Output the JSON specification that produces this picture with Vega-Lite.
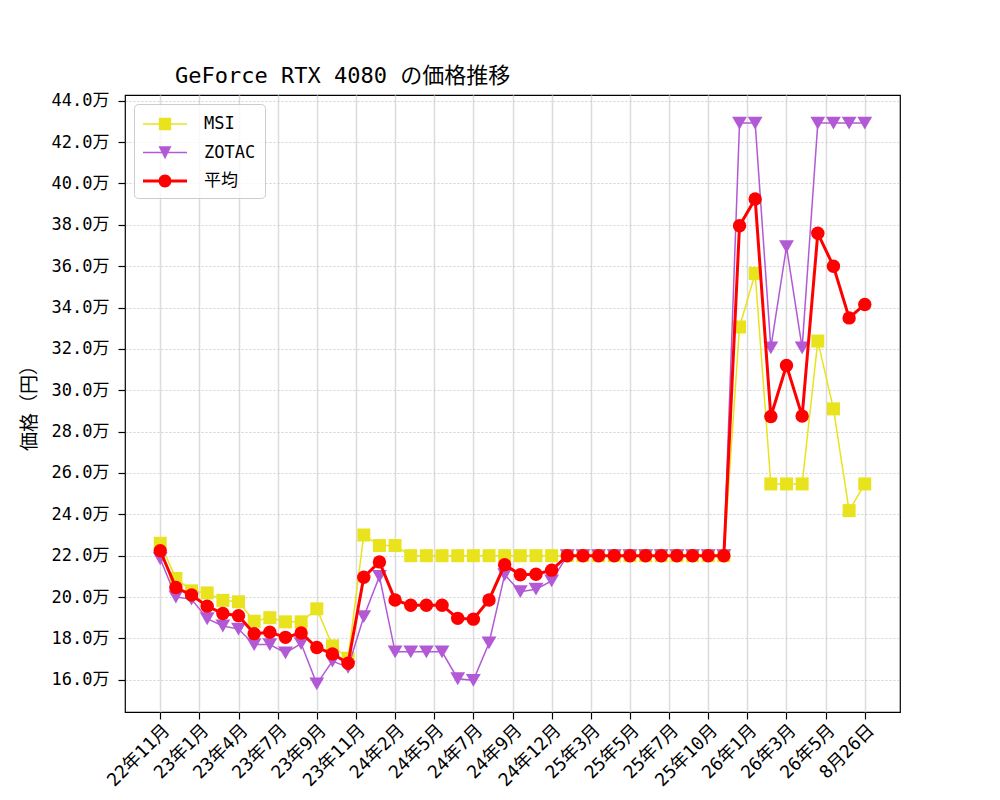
{
  "$schema": "https://vega.github.io/schema/vega-lite/v6.json",
  "width": 775,
  "height": 617,
  "autosize": "none",
  "padding": {"left": 125, "top": 95, "right": 100, "bottom": 88},
  "background": "white",
  "title": {"text": "GeForce RTX 4080 の価格推移", "anchor": "start", "frame": "group", "dx": 50, "offset": -13, "fontSize": 22, "fontWeight": "normal", "font": "DejaVu Sans Mono, Noto Sans CJK JP", "baseline": "alphabetic", "color": "black"},
  "data": {"values": [
    {"i": 0, "MSI": 226000, "ZOTAC": 218500, "平均": 222400},
    {"i": 1, "MSI": 209000, "ZOTAC": 200000, "平均": 204600},
    {"i": 2, "MSI": 203000, "ZOTAC": 199000, "平均": 201000},
    {"i": 3, "MSI": 202000, "ZOTAC": 189500, "平均": 195600},
    {"i": 4, "MSI": 198400, "ZOTAC": 186000, "平均": 192000},
    {"i": 5, "MSI": 197700, "ZOTAC": 184500, "平均": 191000},
    {"i": 6, "MSI": 188300, "ZOTAC": 177000, "平均": 182300},
    {"i": 7, "MSI": 190000, "ZOTAC": 177000, "平均": 183000},
    {"i": 8, "MSI": 188000, "ZOTAC": 173000, "平均": 180500},
    {"i": 9, "MSI": 188000, "ZOTAC": 177500, "平均": 182600},
    {"i": 10, "MSI": 194300, "ZOTAC": 158000, "平均": 175600},
    {"i": 11, "MSI": 176400, "ZOTAC": 169000, "平均": 172500},
    {"i": 12, "MSI": 170400, "ZOTAC": 166000, "平均": 168000},
    {"i": 13, "MSI": 230000, "ZOTAC": 190500, "平均": 209600},
    {"i": 14, "MSI": 224900, "ZOTAC": 210000, "平均": 217000},
    {"i": 15, "MSI": 224900, "ZOTAC": 173500, "平均": 198600},
    {"i": 16, "MSI": 220000, "ZOTAC": 173500, "平均": 196000},
    {"i": 17, "MSI": 220000, "ZOTAC": 173500, "平均": 196000},
    {"i": 18, "MSI": 220000, "ZOTAC": 173500, "平均": 196000},
    {"i": 19, "MSI": 220000, "ZOTAC": 160500, "平均": 189700},
    {"i": 20, "MSI": 220000, "ZOTAC": 159700, "平均": 189300},
    {"i": 21, "MSI": 220000, "ZOTAC": 177800, "平均": 198600},
    {"i": 22, "MSI": 220000, "ZOTAC": 210800, "平均": 215600},
    {"i": 23, "MSI": 220000, "ZOTAC": 202600, "平均": 210800},
    {"i": 24, "MSI": 220000, "ZOTAC": 203800, "平均": 211000},
    {"i": 25, "MSI": 220000, "ZOTAC": 207800, "平均": 213000},
    {"i": 26, "MSI": 220000, "ZOTAC": 220000, "平均": 220000},
    {"i": 27, "MSI": 220000, "ZOTAC": 220000, "平均": 220000},
    {"i": 28, "MSI": 220000, "ZOTAC": 220000, "平均": 220000},
    {"i": 29, "MSI": 220000, "ZOTAC": 220000, "平均": 220000},
    {"i": 30, "MSI": 220000, "ZOTAC": 220000, "平均": 220000},
    {"i": 31, "MSI": 220000, "ZOTAC": 220000, "平均": 220000},
    {"i": 32, "MSI": 220000, "ZOTAC": 220000, "平均": 220000},
    {"i": 33, "MSI": 220000, "ZOTAC": 220000, "平均": 220000},
    {"i": 34, "MSI": 220000, "ZOTAC": 220000, "平均": 220000},
    {"i": 35, "MSI": 220000, "ZOTAC": 220000, "平均": 220000},
    {"i": 36, "MSI": 220000, "ZOTAC": 220000, "平均": 220000},
    {"i": 37, "MSI": 330600, "ZOTAC": 429200, "平均": 379600},
    {"i": 38, "MSI": 356500, "ZOTAC": 429200, "平均": 392500},
    {"i": 39, "MSI": 254700, "ZOTAC": 320500, "平均": 287300},
    {"i": 40, "MSI": 254700, "ZOTAC": 369400, "平均": 312000},
    {"i": 41, "MSI": 254700, "ZOTAC": 320500, "平均": 287500},
    {"i": 42, "MSI": 323800, "ZOTAC": 429200, "平均": 375900},
    {"i": 43, "MSI": 291000, "ZOTAC": 429200, "平均": 360000},
    {"i": 44, "MSI": 241800, "ZOTAC": 429200, "平均": 335000},
    {"i": 45, "MSI": 254700, "ZOTAC": 429200, "平均": 341500}
  ]},
  "transform": [{"fold": ["MSI", "ZOTAC", "平均"], "as": ["series", "price"]}],
  "encoding": {
    "x": {
      "field": "i", "type": "quantitative",
      "scale": {"domain": [-2.25, 47.25], "nice": false, "zero": false},
      "axis": {
        "title": null,
        "values": [0, 2.5, 5, 7.5, 10, 12.5, 15, 17.5, 20, 22.5, 25, 27.5, 30, 32.5, 35, 37.5, 40, 42.5, 45],
        "labelExpr": "['22年11月','23年1月','23年4月','23年7月','23年9月','23年11月','24年2月','24年5月','24年7月','24年9月','24年12月','25年3月','25年5月','25年7月','25年10月','26年1月','26年3月','26年5月','8月26日'][round(datum.value / 2.5)]",
        "labelAngle": -45, "labelAlign": "right", "labelBaseline": "top", "labelPadding": 2,
        "labelFontSize": 18, "labelFont": "DejaVu Sans Mono, Noto Sans CJK JP", "labelColor": "black",
        "grid": true, "gridColor": "#dcdcdc", "gridWidth": 1.5,
        "domain": false, "ticks": true, "tickColor": "black", "tickSize": 7, "tickWidth": 1.2,
        "labelOverlap": false
      }
    },
    "y": {
      "field": "price", "type": "quantitative",
      "scale": {"domain": [144400, 442800], "nice": false, "zero": false},
      "axis": {
        "title": "価格（円）", "titleFont": "Noto Sans CJK JP", "titleFontSize": 19, "titleFontWeight": "normal", "titleColor": "black",
        "titleX": -96, "titleY": 308, "titleAngle": -90, "titleAlign": "center", "titleBaseline": "middle",
        "values": [160000, 180000, 200000, 220000, 240000, 260000, 280000, 300000, 320000, 340000, 360000, 380000, 400000, 420000, 440000],
        "labelExpr": "format(datum.value / 10000, '.1f') + '万'",
        "labelFontSize": 17, "labelFont": "DejaVu Sans Mono, Noto Sans CJK JP", "labelColor": "black", "labelPadding": 9,
        "grid": true, "gridColor": "#c4c4c4", "gridWidth": 0.8, "gridDash": [2, 2],
        "domain": false, "ticks": true, "tickColor": "black", "tickSize": 7, "tickWidth": 1.2,
        "labelOverlap": false
      }
    },
    "color": {
      "field": "series", "type": "nominal",
      "scale": {"domain": ["MSI", "ZOTAC", "平均"], "range": ["#e9e31d", "#b25ad6", "#ff0000"]},
      "legend": {
        "title": null, "orient": "top-left", "offset": 9,
        "symbolSize": 484, "labelFontSize": 17, "labelFont": "DejaVu Sans Mono, Noto Sans CJK JP", "labelColor": "black",
        "labelOffset": 39, "padding": 9, "rowPadding": 9.5,
        "strokeColor": "#cccccc", "cornerRadius": 4, "fillColor": "rgba(255,255,255,0.8)",
        "encode": {
          "symbols": {
            "update": {
              "shape": {"signal": "datum.value === 'MSI' ? 'M-1,-0.068H3V0.068H-1Z M0.44,-0.56H1.56V0.56H0.44Z' : datum.value === 'ZOTAC' ? 'M-1,-0.068H3V0.068H-1Z M0.41,-0.56H1.59L1,0.62Z' : 'M-1,-0.136H3V0.136H-1Z M0.41,0A0.59,0.59,0,1,1,1.59,0A0.59,0.59,0,1,1,0.41,0Z'"},
              "fill": {"signal": "scale('color', datum.value)"},
              "stroke": {"value": "transparent"},
              "strokeWidth": {"value": 0},
              "size": {"value": 484},
              "opacity": {"value": 1}
            }
          }
        }
      }
    }
  },
  "layer": [
    {"transform": [{"filter": "datum.series === 'MSI'"}], "mark": {"type": "line", "strokeWidth": 1.5}},
    {"transform": [{"filter": "datum.series === 'MSI'"}], "mark": {"type": "point", "shape": "square", "filled": true, "size": 169, "opacity": 1}},
    {"transform": [{"filter": "datum.series === 'ZOTAC'"}], "mark": {"type": "line", "strokeWidth": 1.5}},
    {"transform": [{"filter": "datum.series === 'ZOTAC'"}], "mark": {"type": "point", "shape": "triangle-down", "filled": true, "size": 220, "opacity": 1}},
    {"transform": [{"filter": "datum.series === '平均'"}], "mark": {"type": "line", "strokeWidth": 3}},
    {"transform": [{"filter": "datum.series === '平均'"}], "mark": {"type": "point", "shape": "circle", "filled": true, "size": 180, "opacity": 1}}
  ],
  "config": {
    "view": {"stroke": "black", "strokeWidth": 1.2},
    "font": "DejaVu Sans Mono, Noto Sans CJK JP"
  }
}
